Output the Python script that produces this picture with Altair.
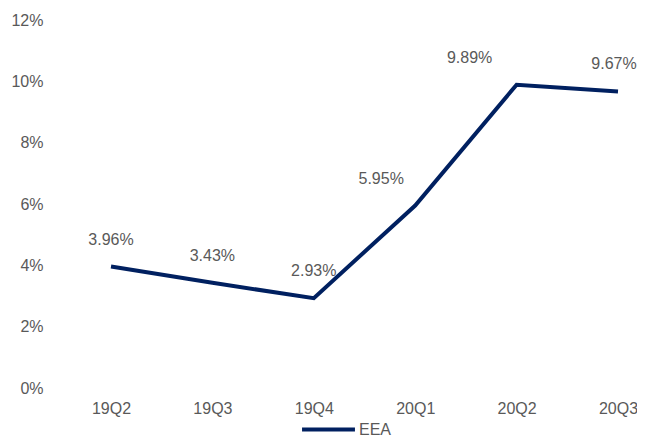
import altair as alt
import pandas as pd

quarters = ["19Q2", "19Q3", "19Q4", "20Q1", "20Q2", "20Q3"]
values = [3.96, 3.43, 2.93, 5.95, 9.89, 9.67]
series = ["EEA"] * len(quarters)
y_ticks = [0, 2, 4, 6, 8, 10, 12]

df = pd.DataFrame({"quarter": quarters, "value": values, "series": series})

FONT = "Liberation Sans"
GRAY = "#595959"
NAVY = "#002060"

x_enc = alt.X("quarter:O", sort=quarters,
              scale=alt.Scale(type="point", range=[56, 563], padding=0),
              axis=alt.Axis(title=None, labelAngle=0, labelPadding=12))
y_enc = alt.Y("value:Q",
              scale=alt.Scale(domain=[0, 12], nice=False),
              axis=alt.Axis(title=None, values=y_ticks, labelPadding=12,
                            labelExpr="datum.value + '%'"))

line = alt.Chart(df).mark_line(strokeWidth=4, strokeJoin="miter").encode(
    x=x_enc, y=y_enc,
    color=alt.Color("series:N", scale=alt.Scale(range=[NAVY]),
                    legend=alt.Legend(title=None, orient="none", legendX=245, legendY=381,
                                      symbolType="stroke",
                                      symbolSize=2800, symbolStrokeWidth=4,
                                      labelFontSize=16, labelColor=GRAY, labelFont=FONT,
                                      labelOffset=2)),
)

labels = alt.Chart(df).transform_calculate(
    label="format(datum.value, '.2f') + '%'"
).mark_text(
    fontSize=16, font=FONT, color=GRAY, baseline="middle", dy=-27,
    dx=alt.ExprRef("datum.quarter === '20Q2' ? -47 : (datum.quarter === '20Q1' ? -34 : (datum.quarter === '20Q3' ? -4 : 0))"),
).encode(x=x_enc, y=y_enc, text="label:N")

chart = alt.layer(line, labels).properties(
    width=582, height=368,
    autosize=alt.AutoSizeParams(type="none"),
    padding={"left": 47, "top": 12, "right": 0, "bottom": 52},
).configure_view(stroke=None).configure_axis(
    domain=False, ticks=False, grid=False, labelFontSize=16, labelColor=GRAY, labelFont=FONT,
)

chart.save("out.html", embed_options={"renderer": "svg", "actions": False})
